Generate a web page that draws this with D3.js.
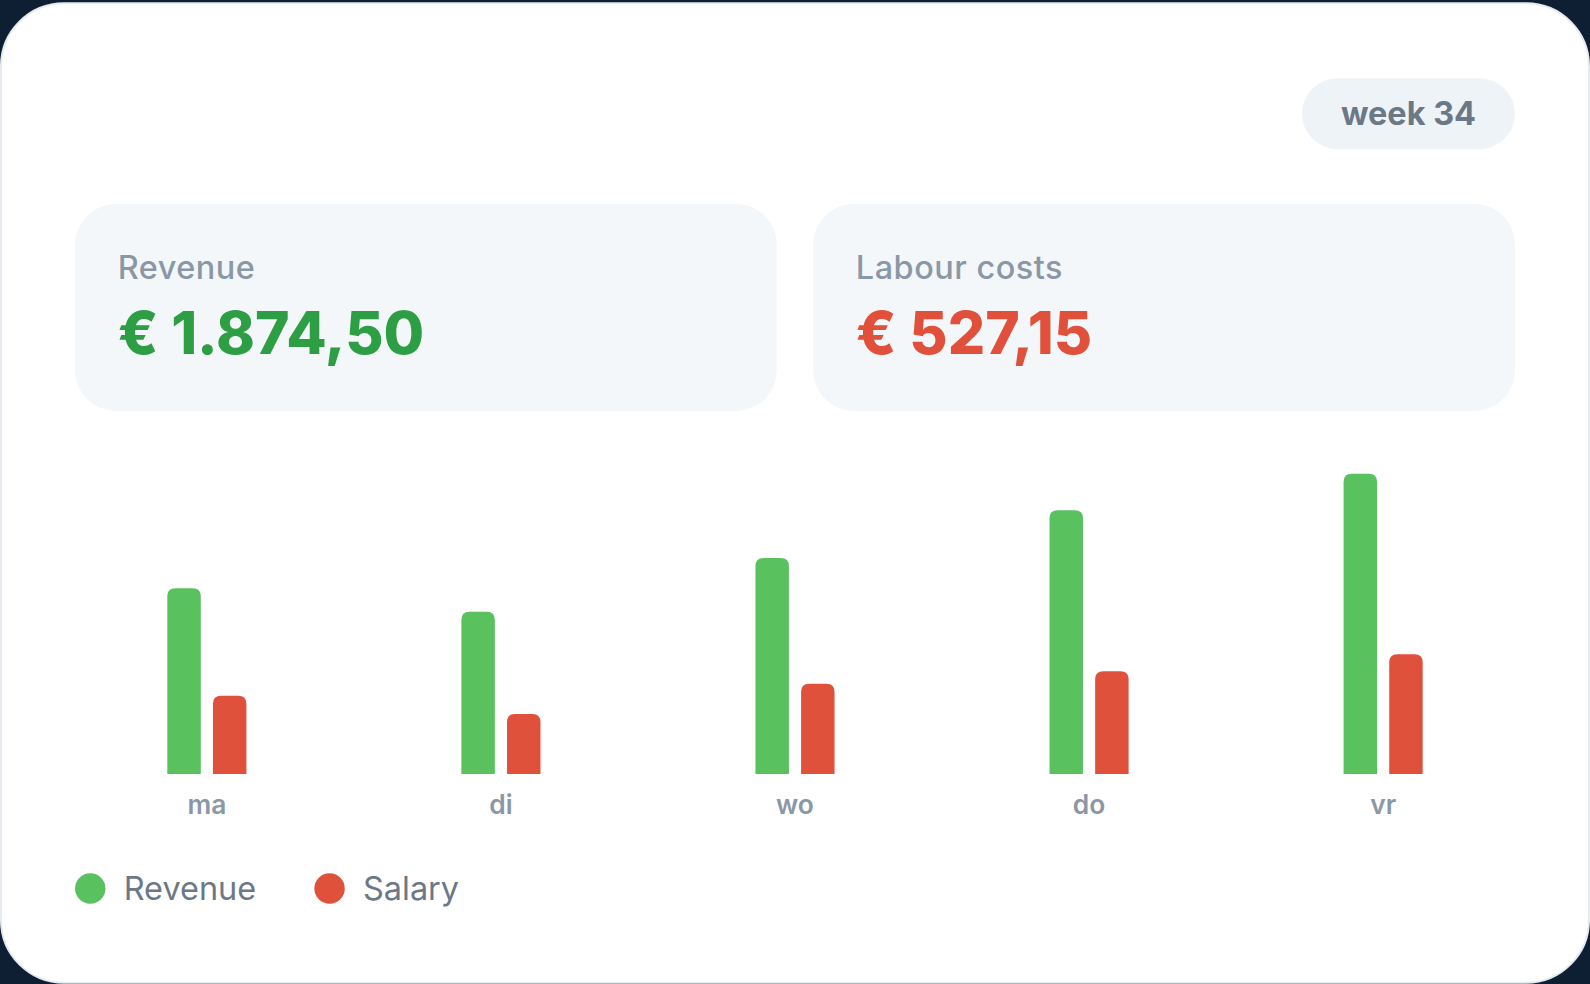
<!DOCTYPE html><html><head><meta charset="utf-8">
<script src="https://cdn.jsdelivr.net/npm/d3@7"></script>
<style>html,body{margin:0;padding:0;background:#0f1f33;overflow:hidden}svg{display:block;font-family:Inter,sans-serif}</style>
</head><body><svg id="c" width="1590" height="984" viewBox="0 0 1568 970"></svg>
<script>
const days=["ma","di","wo","do","vr"];
const revenue=[308.5,269.75,359,438.25,499];
const salary=[130,99.5,150,170.5,199];
const seriesNames=["Revenue","Salary"];
const colors=["#59c15d","#e0513c"];

const svg=d3.select("#c");
svg.append("rect").attr("x",1).attr("y",3).attr("width",1566).attr("height",966).attr("rx",62).attr("fill","#fff").attr("stroke","#e6ebf0").attr("stroke-width",2);
// badge
svg.append("rect").attr("x",1284).attr("y",77).attr("width",210).attr("height",70).attr("rx",35).attr("fill","#eef3f7");
svg.append("text").attr("x",1389).attr("y",123).attr("text-anchor","middle").attr("font-size",32).attr("font-weight",700).attr("fill","#6b7886").text("week 34");
// panels
const panels=[{x:74,t:"Revenue",v:"€ 1.874,50",c:"#2e9e44"},{x:802,t:"Labour costs",v:"€ 527,15",c:"#e0503a"}];
panels.forEach(p=>{
 svg.append("rect").attr("x",p.x).attr("y",201).attr("width",692).attr("height",204).attr("rx",40).attr("fill","#f3f7fa");
 svg.append("text").attr("x",p.x+42).attr("y",275).attr("font-size",32).attr("font-weight",500).attr("fill","#8a97a6").attr("letter-spacing",0.5).text(p.t);
 svg.append("text").attr("x",p.x+42).attr("y",349).attr("font-size",58).attr("font-weight",800).attr("fill",p.c).text(p.v);
});
const x=d3.scaleBand().domain(days).range([59,1509]);
const y=d3.scaleLinear().domain([0,500]).range([763,466.4]);
const bw=33,r=8;
function bar(x0,v){const y0=y(0),y1=y(v);
 return `M${x0},${y0}V${y1+r}Q${x0},${y1} ${x0+r},${y1}H${x0+bw-r}Q${x0+bw},${y1} ${x0+bw},${y1+r}V${y0}Z`;}
[revenue,salary].forEach((arr,si)=>{
 svg.append("g").selectAll("path").data(arr).join("path")
  .attr("d",(v,i)=>{const cx=x(days[i])+x.bandwidth()/2;return bar(si===0?cx-39:cx+6,v);})
  .attr("fill",colors[si]);
});
const ax=svg.append("g").attr("transform","translate(0,763)").call(d3.axisBottom(x).tickSize(0).tickPadding(21));
ax.select(".domain").remove();
ax.selectAll("text").attr("font-size",26).attr("font-weight",600).attr("fill","#8a97a6").attr("font-family","Inter,sans-serif");
// legend
const lx=[89,325];
seriesNames.forEach((n,i)=>{
 svg.append("circle").attr("cx",lx[i]).attr("cy",876).attr("r",15).attr("fill",colors[i]);
 svg.append("text").attr("x",lx[i]+33).attr("y",887).attr("font-size",32).attr("fill","#6b7888").text(n);
});
</script></body></html>
